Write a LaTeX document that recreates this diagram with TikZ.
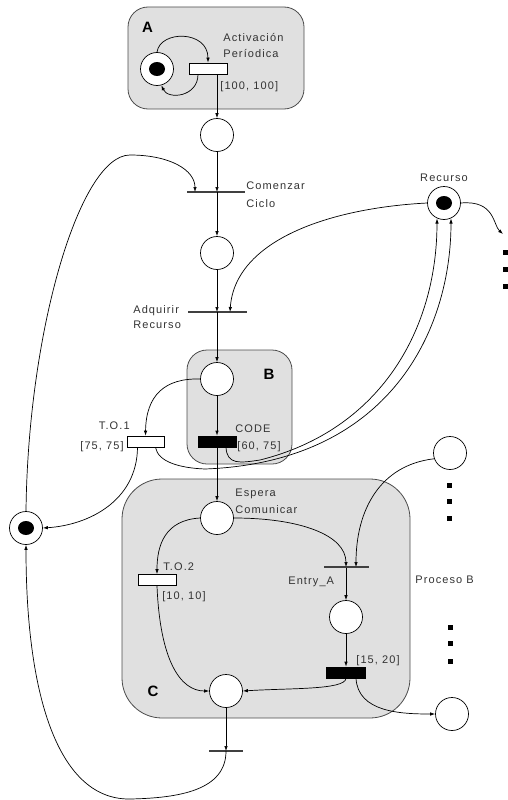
\documentclass[tikz,border=0pt]{standalone}
\usepackage{fontspec}
\setmainfont{Liberation Sans}[LetterSpace=10]
\newfontfamily\boldsans{Liberation Sans}[LetterSpace=0]
\usetikzlibrary{arrows.meta,calc}
\begin{document}
\begin{tikzpicture}[x=1pt,y=-1pt,line width=0.7pt,
 place/.style={circle,draw,fill=white,minimum size=33pt,inner sep=0pt},
 ttrans/.style={rectangle,draw,fill=white,minimum width=38pt,minimum height=11pt,inner sep=0pt},
 btrans/.style={ttrans,fill=black},
 bar/.style={rectangle,fill=black!75,minimum height=1.2pt,inner sep=0pt},
 region/.style={draw=black!70,fill=black!12,line width=0.8pt},
 lbl/.style={font=\fontsize{11}{13}\selectfont,text=black!80,inner sep=0pt},
 big/.style={font=\boldsans\fontsize{15}{15}\selectfont\bfseries,inner sep=0pt},
 arc/.style={-{Latex[length=5pt,width=3.5pt]}},
 dotsq/.style={rectangle,fill=black,minimum size=5pt,inner sep=0pt}
]
\useasboundingbox (0,0) rectangle (508,800);
% regions
\draw[region,rounded corners=20pt] (128,7) rectangle (304,109);
\draw[region,rounded corners=20pt] (187,350) rectangle (292,464);
\draw[region,rounded corners=40pt] (122,479) rectangle (410,718);
\node[big] (labA) at (147.5,27) {A};
\node[big] (labB) at (269,374) {B};
\node[big] (labC) at (153,691) {C};
% places
\node[place] (Apl) at (157,69) {};
\node[place] (P1) at (217,135) {};
\node[place] (P2) at (217,253) {};
\node[place] (Rec) at (444,203) {};
\node[place] (BP) at (217,379) {};
\node[place] (LP) at (26,528) {};
\node[place] (Esp) at (217,518) {};
\node[place] (EP) at (450,453) {};
\node[place] (EnP) at (346,617) {};
\node[place] (CP) at (226,691) {};
\node[place] (RP) at (452,714) {};
\fill (Apl.center) ellipse [x radius=8pt,y radius=7pt];
\fill (Rec.center) ellipse [x radius=8pt,y radius=7pt];
\fill (LP.center) ellipse [x radius=8pt,y radius=7pt];
% transitions
\node[ttrans] (Atr) at (208,68.5) {};
\node[ttrans,minimum width=37pt] (TO1) at (145.5,441.5) {};
\node[btrans] (CODE) at (217,441.5) {};
\node[ttrans] (TO2) at (157,580) {};
\node[btrans,minimum width=39pt] (F) at (346,672.5) {};
\node[bar,minimum width=58pt] (Com) at (216,192) {};
\node[bar,minimum width=59pt] (Adq) at (217.5,312) {};
\node[bar,minimum width=45pt] (Ent) at (346,567) {};
\node[bar,minimum width=34pt] (Bot) at (226,751) {};
% dots
\node[dotsq] (d1) at (505,252) {};
\node[dotsq] (d2) at (505,269) {};
\node[dotsq] (d3) at (505,286) {};
\node[dotsq] (d4) at (449,485) {};
\node[dotsq] (d5) at (449,501) {};
\node[dotsq] (d6) at (449,518) {};
\node[dotsq] (d7) at (450,627) {};
\node[dotsq] (d8) at (450,643) {};
\node[dotsq] (d9) at (450,661) {};
% labels
\node[lbl,anchor=base west] (l1) at (223,42) {Activación};
\node[lbl,anchor=base west] (l2) at (223,57) {Períodica};
\node[lbl,anchor=base west] (l3) at (220,89) {[100, 100]};
\node[lbl,anchor=base west] (l4) at (246,189) {Comenzar};
\node[lbl,anchor=base west] (l5) at (246,207) {Ciclo};
\node[lbl,anchor=base west] (l6) at (133,313) {Adquirir};
\node[lbl,anchor=base west] (l7) at (133,328) {Recurso};
\node[lbl,anchor=base] (l8) at (444,181) {Recurso};
\node[lbl,anchor=base east] (l9) at (130,429) {T.O.1};
\node[lbl,anchor=base east] (l10) at (124,449) {[75, 75]};
\node[lbl,anchor=base west] (l11) at (235,432) {CODE};
\node[lbl,anchor=base west] (l12) at (237,449) {[60, 75]};
\node[lbl,anchor=base west] (l13) at (235,496) {Espera};
\node[lbl,anchor=base west] (l14) at (235,513) {Comunicar};
\node[lbl,anchor=base west] (l15) at (163,570) {T.O.2};
\node[lbl,anchor=base west] (l16) at (162,599) {[10, 10]};
\node[lbl,anchor=base west] (l17) at (288,584) {Entry\_A};
\node[lbl,anchor=base west] (l18) at (415,583) {Proceso B};
\node[lbl,anchor=base west] (l19) at (356,663) {[15, 20]};
% named coordinates
\coordinate (comIn) at (195,192);
\coordinate (adqIn) at (230,312);
\coordinate (recOut) at (503,234);
\coordinate (recIn1) at (437,218.5);
\coordinate (recIn2) at (451,218.5);
\coordinate (entIn2) at (356,567);
% connectors
\draw[arc] (Apl.north) .. controls (160,30) and (208,30) .. (Atr.north);
\draw[arc] ($(Atr.south)+(-10,0)$) .. controls (198,97) and (168,100) .. (Apl.285);
\draw[arc] (Atr.south -| P1) -- (P1);
\draw[arc] (P1) -- (P1 |- Com);
\draw[arc] (P1 |- Com) -- (P2);
\draw[arc] (P2) -- (P2 |- Adq);
\draw[arc] (P2 |- Adq) -- (BP);
\draw[arc] (BP) -- (CODE);
\draw[arc] (CODE) -- (Esp);
\draw[arc] (BP.west) .. controls (165,378) and (146,395) .. (TO1.north);
\draw[arc] (LP.north) .. controls (28,330) and (80,155) .. (130,155) .. controls (170,155) and (195,170) .. (comIn);
\draw[arc] (Rec.west) .. controls (330,208) and (235,240) .. (adqIn);
\draw[arc] (Rec.east) .. controls (495,200) and (493,225) .. (recOut);
\draw[arc] ($(CODE.south)+(9,0)$) .. controls (227,465) and (240,463) .. (260,460) .. controls (380,430) and (437,330) .. (recIn1);
\draw[arc] ($(TO1.south)+(10,0)$) .. controls (158,462) and (180,468) .. (205,469) .. controls (390,462) and (451,330) .. (recIn2);
\draw[arc] ($(TO1.south)+(-8,0)$) .. controls (137,500) and (90,525) .. (LP.east);
\draw[arc] (Bot.center) .. controls (226,790) and (180,798) .. (130,799) .. controls (60,800) and (26,700) .. (LP.south);
\draw[arc] (CP) -- (CP |- Bot);
\draw[arc] (Esp.west) .. controls (165,520) and (157,545) .. (TO2.north);
\draw[arc] (Esp.east) .. controls (300,518) and (346,535) .. (Ent.center);
\draw[arc] (EP.200) .. controls (380,465) and (356,510) .. (entIn2);
\draw[arc] (Ent) -- (EnP);
\draw[arc] (TO2.south) .. controls (160,660) and (180,691) .. (CP.west);
\draw[arc] (EnP) -- (F);
\draw[arc] (F.south) .. controls (345,690) and (290,688) .. (CP.east);
\draw[arc] ($(F.south)+(10,0)$) .. controls (358,712) and (400,714) .. (RP.west);
\end{tikzpicture}
\end{document}
